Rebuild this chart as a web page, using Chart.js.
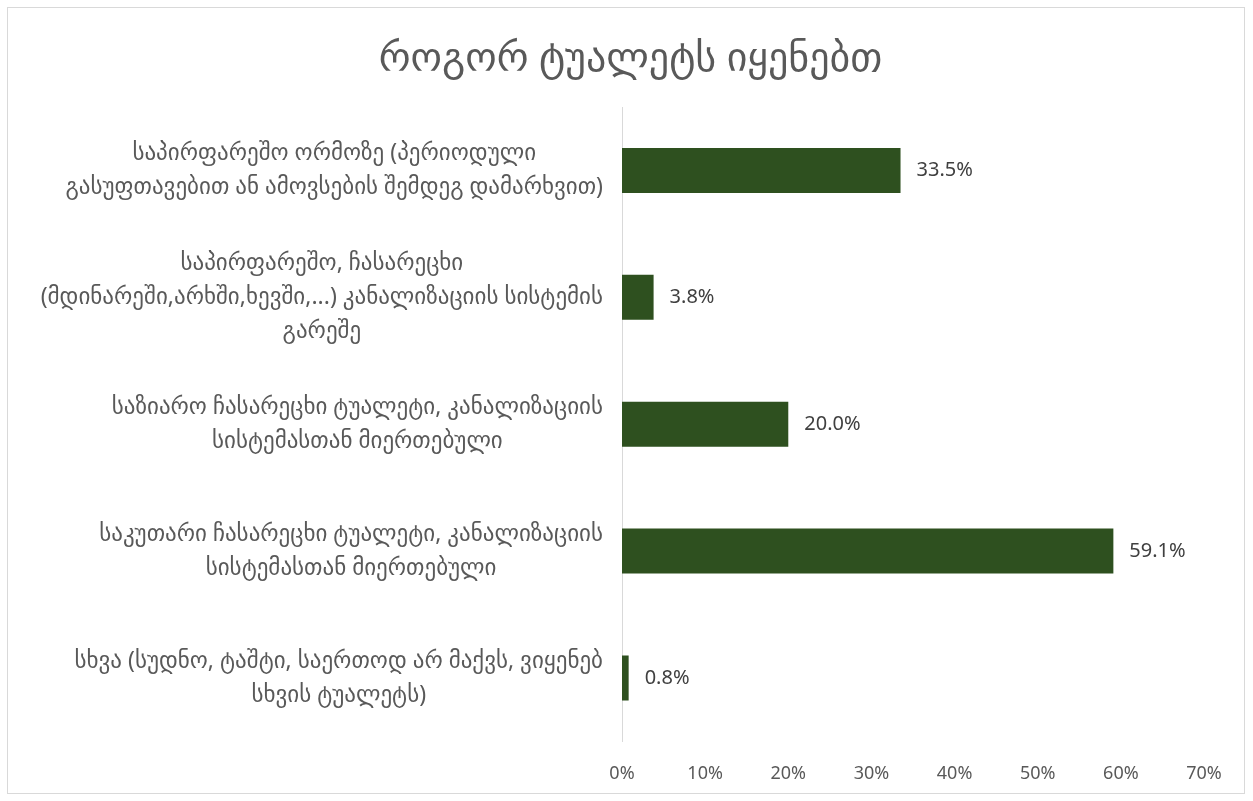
<!DOCTYPE html>
<html>
<head>
<meta charset="utf-8">
<script src="https://cdn.jsdelivr.net/npm/chart.js@4/dist/chart.umd.min.js"></script>
<style>
  html, body { margin: 0; padding: 0; background: #fff; }
  #wrap { position: relative; width: 1253px; height: 801px; }
  #frame { position: absolute; left: 7px; top: 7px; width: 1238px; height: 787px; border: 1px solid #d9d9d9; box-sizing: border-box; pointer-events: none; }
  canvas { display: block; }
</style>
</head>
<body>
<div id="wrap">
  <canvas id="myChart" width="1253" height="801"></canvas>
  <div id="frame"></div>
</div>
<script>
// toilet type shares, top to bottom
var chartTitle = 'როგორ ტუალეტს იყენებთ';
var categories = [
  ['საპირფარეშო ორმოზე (პერიოდული', 'გასუფთავებით ან ამოვსების შემდეგ დამარხვით)'],
  ['საპირფარეშო, ჩასარეცხი', '(მდინარეში,არხში,ხევში,...) კანალიზაციის სისტემის', 'გარეშე'],
  ['საზიარო ჩასარეცხი ტუალეტი, კანალიზაციის', 'სისტემასთან მიერთებული'],
  ['საკუთარი ჩასარეცხი ტუალეტი, კანალიზაციის', 'სისტემასთან მიერთებული'],
  ['სხვა (სუდნო, ტაშტი, საერთოდ არ მაქვს, ვიყენებ', 'სხვის ტუალეტს)']
];
var shares = [33.5, 3.8, 20.0, 59.1, 0.8];
var xTicks = [0, 10, 20, 30, 40, 50, 60, 70];

var fontFam = "'Noto Sans', 'DejaVu Sans', sans-serif";

// title centred on the whole frame, not on the padded layout box
var titleText = {
  id: 'titleText',
  afterDraw: function(chart){
    var ctx = chart.ctx;
    ctx.save();
    ctx.font = '40px ' + fontFam;
    ctx.fillStyle = '#595959';
    ctx.textAlign = 'center';
    ctx.textBaseline = 'middle';
    ctx.fillText(chartTitle, chart.width / 2 + 4, 60);
    ctx.restore();
  }
};

// category names: lines centred on each other, block right-aligned to the axis
var catLabels = {
  id: 'catLabels',
  afterDraw: function(chart){
    var ctx = chart.ctx, y = chart.scales.y, area = chart.chartArea;
    ctx.save();
    ctx.font = '23px ' + fontFam;
    ctx.fillStyle = '#595959';
    ctx.textAlign = 'center';
    ctx.textBaseline = 'middle';
    var lh = 34;
    categories.forEach(function(lines, i){
      var w = 0;
      lines.forEach(function(l){ w = Math.max(w, ctx.measureText(l).width); });
      var cx = area.left - 19 - w / 2;
      var cy = y.getPixelForValue(i);
      var y0 = cy - (lines.length - 1) * lh / 2;
      lines.forEach(function(l, k){ ctx.fillText(l, cx, y0 + k * lh); });
    });
    ctx.restore();
  }
};

// value labels to the right of each bar
var valueLabels = {
  id: 'valueLabels',
  afterDatasetsDraw: function(chart){
    var ctx = chart.ctx, meta = chart.getDatasetMeta(0);
    ctx.save();
    ctx.font = '20px ' + fontFam;
    ctx.fillStyle = '#404040';
    ctx.textAlign = 'left';
    ctx.textBaseline = 'middle';
    meta.data.forEach(function(bar, i){
      ctx.fillText(shares[i].toFixed(1) + '%', bar.x + 16, bar.y);
    });
    ctx.restore();
  }
};

var ctx = document.getElementById('myChart').getContext('2d');
var chart = new Chart(ctx, {
  type: 'bar',
  data: {
    labels: categories,
    datasets: [{
      data: shares,
      backgroundColor: '#2e501f',
      barPercentage: 0.71,
      categoryPercentage: 0.5
    }]
  },
  options: {
    indexAxis: 'y',
    responsive: false,
    animation: false,
    layout: { padding: { left: 0, right: 49, top: 107, bottom: 2 } },
    plugins: {
      legend: { display: false },
      tooltip: { enabled: false },
      title: { display: false }
    },
    scales: {
      x: {
        min: 0,
        max: 70,
        afterBuildTicks: function(scale){
          scale.ticks = xTicks.map(function(v){ return { value: v }; });
        },
        grid: { display: false },
        border: { display: false },
        ticks: {
          color: '#595959',
          font: { size: 18, family: fontFam },
          padding: 14,
          callback: function(v){ return v + '%'; }
        }
      },
      y: {
        grid: { display: false },
        border: { display: true, color: '#d9d9d9', width: 1 },
        ticks: { display: false },
        afterFit: function(scale){ scale.width = 622; }
      }
    }
  },
  plugins: [titleText, catLabels, valueLabels]
});
</script>
</body>
</html>
